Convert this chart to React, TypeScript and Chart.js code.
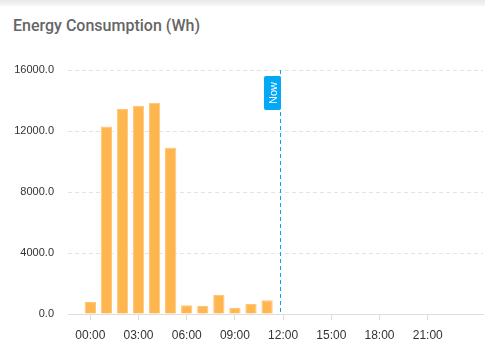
import React, { useEffect, useRef } from "react";
import { Chart, registerables } from "chart.js";

Chart.register(...registerables);

const hours: number[] = [0, 1, 2, 3, 4, 5, 6, 7, 8, 9, 10, 11];
const energyWh: number[] = [790, 12300, 13450, 13650, 13850, 10900, 570, 520, 1250, 400, 650, 900];
const xTickHours: number[] = [0, 3, 6, 9, 12, 15, 18, 21];
const yTicks: number[] = [0, 4000, 8000, 12000, 16000];
const nowHour = 11.83;
const nowLabel = "Now";
const titleText = "Energy Consumption (Wh)";

const pad2 = (n: number) => (n < 10 ? "0" + n : "" + n);

const nowPlugin = {
  id: "nowLine",
  afterDatasetsDraw(chart: any) {
    const { ctx, chartArea, scales } = chart;
    const x = Math.round(scales.x.getPixelForValue(nowHour)) + 0.5;
    ctx.save();
    ctx.strokeStyle = "#03a9f4";
    ctx.lineWidth = 1;
    ctx.setLineDash([4, 3]);
    ctx.beginPath();
    ctx.moveTo(x, chartArea.top);
    ctx.lineTo(x, chartArea.bottom);
    ctx.stroke();
    ctx.setLineDash([]);
    const bw = 17;
    const bh = 34;
    const bx = x - bw + 0.5;
    const by = chartArea.top + 6;
    ctx.fillStyle = "#03a9f4";
    ctx.beginPath();
    if ((ctx as any).roundRect) (ctx as any).roundRect(bx, by, bw, bh, 2);
    else ctx.rect(bx, by, bw, bh);
    ctx.fill();
    ctx.translate(bx + bw / 2, by + bh / 2);
    ctx.rotate(-Math.PI / 2);
    ctx.fillStyle = "#ffffff";
    ctx.font = "11px 'Liberation Sans', Arial, sans-serif";
    ctx.textAlign = "center";
    ctx.textBaseline = "middle";
    ctx.fillText(nowLabel, 0, 1);
    ctx.restore();
  },
};

export default function App() {
  const ref = useRef<HTMLCanvasElement | null>(null);

  useEffect(() => {
    document.body.style.margin = "0";
    const canvas = ref.current!;
    const chart = new Chart(canvas, {
      type: "bar",
      data: {
        datasets: [
          {
            data: hours.map((h, i) => ({ x: h, y: energyWh[i] })),
            backgroundColor: "#ffb64e",
            borderColor: "#ffc57a",
            borderWidth: 1,
            borderSkipped: "bottom",
            barPercentage: 0.88,
            categoryPercentage: 0.8,
          },
        ],
      },
      options: {
        animation: false,
        responsive: false,
        events: [],
        layout: { padding: { left: 0, right: 2, top: 70, bottom: 0 } },
        plugins: {
          legend: { display: false },
          title: { display: false },
          tooltip: { enabled: false },
        },
        scales: {
          x: {
            type: "linear",
            offset: false,
            min: -1.39,
            max: 24.44,
            afterBuildTicks: (scale: any) => {
              scale.ticks = xTickHours.map((v) => ({ value: v }));
            },
            afterFit: (scale: any) => {
              scale.height = 37;
            },
            ticks: {
              callback: (v: any) => pad2(Number(v)) + ":00",
              color: "#333",
              font: { family: "'Liberation Sans', Arial, sans-serif", size: 12 },
              padding: 8,
              maxRotation: 0,
              autoSkip: false,
            },
            grid: {
              offset: false,
              drawOnChartArea: false,
              drawTicks: true,
              tickLength: 6,
              color: "#dddddd",
            },
            border: { display: true, color: "#dddddd", dash: [4, 3] },
          },
          y: {
            min: 0,
            max: 16000,
            afterBuildTicks: (scale: any) => {
              scale.ticks = yTicks.map((v) => ({ value: v }));
            },
            afterFit: (scale: any) => {
              scale.width = 68;
            },
            ticks: {
              callback: (v: any) => Number(v).toFixed(1),
              color: "#333",
              font: { family: "'Liberation Sans', Arial, sans-serif", size: 11 },
              padding: 14,
            },
            grid: {
              drawTicks: false,
              color: "#e4e4e4",
              lineWidth: 1,
            },
            border: { display: false, dash: [4, 3] },
          },
        },
      },
      plugins: [nowPlugin],
    } as any);
    return () => chart.destroy();
  }, []);

  return (
    <div style={{ position: "relative", width: 485, height: 351, background: "#fff", overflow: "hidden" }}>
      <div
        style={{
          position: "absolute",
          left: 0,
          top: 0,
          width: 485,
          height: 6,
          background: "linear-gradient(#e9e9e9, #f7f7f7)",
        }}
      />
      <div
        style={{
          position: "absolute",
          left: 13,
          top: 18,
          fontFamily: "Roboto, sans-serif",
          fontSize: 16,
          lineHeight: "16px",
          fontWeight: 500,
          color: "#666",
          whiteSpace: "nowrap",
        }}
      >
        {titleText}
      </div>
      <canvas ref={ref} width={485} height={351} style={{ position: "absolute", left: 0, top: 0 }} />
    </div>
  );
}
